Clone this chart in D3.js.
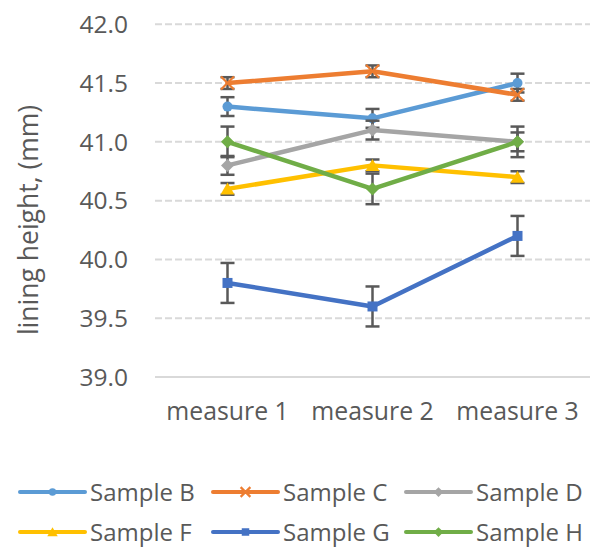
<!DOCTYPE html>
<html><head><meta charset="utf-8">
<script src="https://cdn.jsdelivr.net/npm/d3@7"></script>
<style>body{margin:0;background:#fff}svg{display:block}text{font-family:"Open Sans",sans-serif;fill:#595959}</style>
</head><body><svg id="c" width="590" height="549"></svg>
<script>
const categories = ["measure 1", "measure 2", "measure 3"];
const seriesNames = ["Sample B", "Sample C", "Sample D", "Sample F", "Sample G", "Sample H"];
const sampleB = [41.3, 41.2, 41.5];
const sampleC = [41.5, 41.6, 41.4];
const sampleD = [40.8, 41.1, 41.0];
const sampleF = [40.6, 40.8, 40.7];
const sampleG = [39.8, 39.6, 40.2];
const sampleH = [41.0, 40.6, 41.0];
const errB = [0.08, 0.08, 0.08];
const errC = [0.05, 0.05, 0.05];
const errD = [0.08, 0.08, 0.08];
const errF = [0.05, 0.05, 0.05];
const errG = [0.17, 0.17, 0.17];
const errH = [0.13, 0.13, 0.13];
const yTicks = [39.0, 39.5, 40.0, 40.5, 41.0, 41.5, 42.0];

const colors = ["#5B9BD5", "#ED7D31", "#A5A5A5", "#FFC000", "#4472C4", "#70AD47"];
const markers = ["circle", "x", "diamond", "triangle", "square", "diamond"];
const values = [sampleB, sampleC, sampleD, sampleF, sampleG, sampleH];
const errs = [errB, errC, errD, errF, errG, errH];

const svg = d3.select("#c");
const x = d3.scaleBand().domain(categories).range([155, 590]);
const y = d3.scaleLinear().domain([39, 42]).range([377, 24.3]);

// gridlines
svg.append("g").selectAll("line").data(yTicks.filter(t => t > 39)).join("line")
  .attr("x1", 155).attr("x2", 590).attr("y1", d => y(d)).attr("y2", d => y(d))
  .attr("stroke", "#D9D9D9").attr("stroke-width", 2).attr("stroke-dasharray", "7,3");
// axis line
svg.append("line").attr("x1", 155).attr("x2", 590).attr("y1", y(39)).attr("y2", y(39))
  .attr("stroke", "#D9D9D9").attr("stroke-width", 2);

// y tick labels
svg.append("g").selectAll("text").data(yTicks).join("text")
  .attr("x", 128).attr("y", d => y(d)).attr("dy", "0.36em").attr("text-anchor", "end")
  .attr("font-size", 24.5).text(d => d.toFixed(1));
// x labels
svg.append("g").selectAll("text").data(categories).join("text")
  .attr("x", d => x(d) + x.bandwidth() / 2).attr("y", 420).attr("text-anchor", "middle")
  .attr("font-size", 24.8).text(d => d);
// y title
svg.append("text").attr("transform", "translate(38,220) rotate(-90)").attr("text-anchor", "middle")
  .attr("font-size", 26.5).text("lining height, (mm)");

function drawMarker(g, type, cx, cy, color, s) {
  if (type === "circle") g.append("circle").attr("cx", cx).attr("cy", cy).attr("r", 5 * s).attr("fill", color);
  else if (type === "square") g.append("rect").attr("x", cx - 5 * s).attr("y", cy - 5 * s).attr("width", 10 * s).attr("height", 10 * s).attr("fill", color);
  else if (type === "diamond") g.append("path").attr("d", `M${cx},${cy - 6.5 * s}L${cx + 6.5 * s},${cy}L${cx},${cy + 6.5 * s}L${cx - 6.5 * s},${cy}Z`).attr("fill", color);
  else if (type === "triangle") g.append("path").attr("d", `M${cx},${cy - 6.5 * s}L${cx + 7 * s},${cy + 5.5 * s}L${cx - 7 * s},${cy + 5.5 * s}Z`).attr("fill", color);
  else if (type === "x") g.append("path").attr("d", `M${cx - 6.5 * s},${cy - 6.5 * s}L${cx + 6.5 * s},${cy + 6.5 * s}M${cx + 6.5 * s},${cy - 6.5 * s}L${cx - 6.5 * s},${cy + 6.5 * s}`).attr("stroke", color).attr("stroke-width", 2.2).attr("fill", "none");
}

const line = d3.line().x((d, i) => x(categories[i]) + x.bandwidth() / 2).y(d => y(d));
values.forEach((vals, si) => {
  const g = svg.append("g");
  g.append("path").datum(vals).attr("d", line).attr("fill", "none")
    .attr("stroke", colors[si]).attr("stroke-width", 4.5).attr("stroke-linejoin", "round").attr("stroke-linecap", "round");
  vals.forEach((v, i) => {
    const cx = x(categories[i]) + x.bandwidth() / 2;
    const e = errs[si][i];
    const eg = g.append("g").attr("stroke", "#595959").attr("stroke-width", 2.5);
    eg.append("line").attr("x1", cx).attr("x2", cx).attr("y1", y(v - e)).attr("y2", y(v + e));
    eg.append("line").attr("x1", cx - 7).attr("x2", cx + 7).attr("y1", y(v - e)).attr("y2", y(v - e));
    eg.append("line").attr("x1", cx - 7).attr("x2", cx + 7).attr("y1", y(v + e)).attr("y2", y(v + e));
    drawMarker(g, markers[si], cx, y(v), colors[si], 1);
  });
});

// legend
const legLine = [20, 213, 406];
const legY = [492, 532];
seriesNames.forEach((name, i) => {
  const lx = legLine[i % 3], ly = legY[Math.floor(i / 3)];
  const g = svg.append("g");
  g.append("line").attr("x1", lx).attr("x2", lx + 65).attr("y1", ly).attr("y2", ly)
    .attr("stroke", colors[i]).attr("stroke-width", 4).attr("stroke-linecap", "round");
  drawMarker(g, markers[i], lx + 32.5, ly, colors[i], 0.75);
  g.append("text").attr("x", lx + 70).attr("y", ly).attr("dy", "0.36em").attr("font-size", 24).text(name);
});
</script></body></html>
